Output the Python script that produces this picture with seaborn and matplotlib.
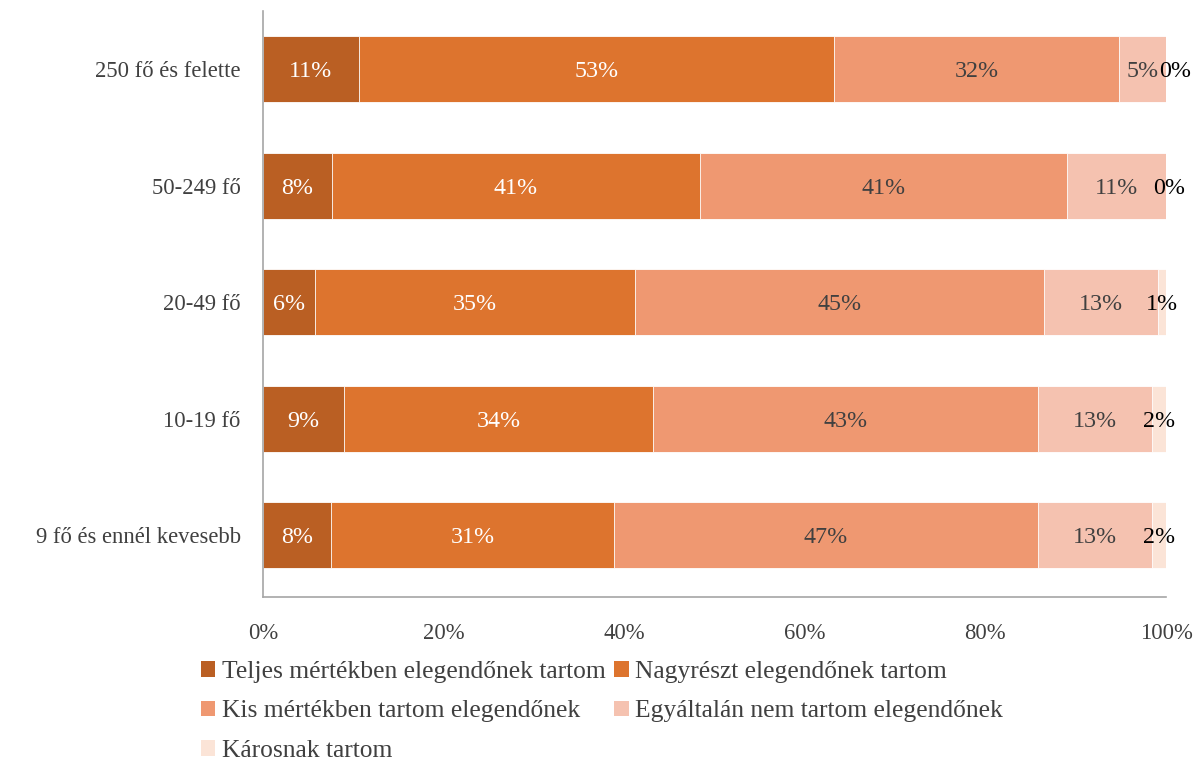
import matplotlib
matplotlib.use("Agg")
import matplotlib.pyplot as plt
from matplotlib.patches import Patch
import seaborn as sns
import pandas as pd
import numpy as np

# Company size groups (top to bottom)
categories = ["250 fő és felette", "50-249 fő", "20-49 fő", "10-19 fő", "9 fő és ennél kevesebb"]

# Answer options, in stacking order
series = [
    "Teljes mértékben elegendőnek tartom",
    "Nagyrészt elegendőnek tartom",
    "Kis mértékben tartom elegendőnek",
    "Egyáltalán nem tartom elegendőnek",
    "Károsnak tartom",
]

# Shares (%) per company size group
teljes = [10.6, 7.6, 5.8, 9.0, 7.5]
nagyreszt = [52.6, 40.8, 35.4, 34.2, 31.4]
kis = [31.6, 40.6, 45.3, 42.6, 46.9]
egyaltalan = [5.2, 11.0, 12.6, 12.6, 12.6]
karos = [0.0, 0.0, 0.9, 1.6, 1.6]

colors = ["#BA5F23", "#DD742E", "#EF9871", "#F5C2B0", "#FBE4D7"]
label_colors = ["white", "white", "#404040", "#404040", "black"]
x_ticks = [0, 20, 40, 60, 80, 100]
x_tick_labels = ["0%", "20%", "40%", "60%", "80%", "100%"]

values = np.array([teljes, nagyreszt, kis, egyaltalan, karos])
cum = np.cumsum(values, axis=0)

sns.set_theme(style="white")
plt.rcParams["font.family"] = ["Liberation Serif", "DejaVu Serif"]
text_color = "#404040"
fs_axis = 16.3
fs_bar = 17.3
fs_legend = 18.4

fig = plt.figure(figsize=(11.97, 7.63), dpi=100)
ax = fig.add_axes([263 / 1197, 1 - 597 / 763, 903 / 1197, 586 / 763])

# Stacked bars: draw cumulative totals from the longest layer down
for i in range(len(series) - 1, -1, -1):
    df = pd.DataFrame({"group": categories, "value": cum[i]})
    sns.barplot(data=df, x="value", y="group", orient="h", color=colors[i],
                saturation=1, width=0.57, edgecolor="#FFFFFF", linewidth=0.6,
                ax=ax)

# Value labels in the middle of each segment
for i in range(len(series)):
    for j in range(len(categories)):
        v = values[i, j]
        start = cum[i, j] - v
        xc = start + v / 2
        dx = 0
        if i == len(series) - 1 and v < 0.5:
            dx = 1.0 if j == 0 else 0.4
        ax.text(xc + dx, j + 0.02, f"{v:.0f}%", ha="center", va="center",
                color=label_colors[i], fontsize=fs_bar)

ax.set_xlim(0, 100)
ax.set_ylim(len(categories) - 0.5 + 0.03, -0.5)
ax.set_xticks(x_ticks)
ax.set_xticklabels(x_tick_labels)
ax.set_xlabel("")
ax.set_ylabel("")
ax.tick_params(axis="x", length=0, pad=19, labelsize=fs_axis, labelcolor=text_color)
ax.tick_params(axis="y", length=0, pad=16, labelsize=fs_axis, labelcolor=text_color)

for side in ["top", "right"]:
    ax.spines[side].set_visible(False)
for side in ["left", "bottom"]:
    ax.spines[side].set_visible(True)
    ax.spines[side].set_color("#A6A6A6")
    ax.spines[side].set_linewidth(1.2)

# Legend laid out in two columns, filled row by row
order = [0, 2, 4, 1, 3]
handles = [Patch(facecolor=colors[k], edgecolor="none") for k in order]
labels = [series[k] for k in order]
leg = fig.legend(handles, labels, ncol=2, loc="upper left",
                 bbox_to_anchor=(201 / 1197, 1 - 661 / 763),
                 frameon=False, fontsize=fs_legend, handlelength=0.56, handleheight=0.56,
                 handletextpad=0.25, columnspacing=0.35, labelspacing=0.68,
                 borderaxespad=0, borderpad=0)
for t in leg.get_texts():
    t.set_color(text_color)

fig.savefig("out.png", dpi=100, facecolor="white")
